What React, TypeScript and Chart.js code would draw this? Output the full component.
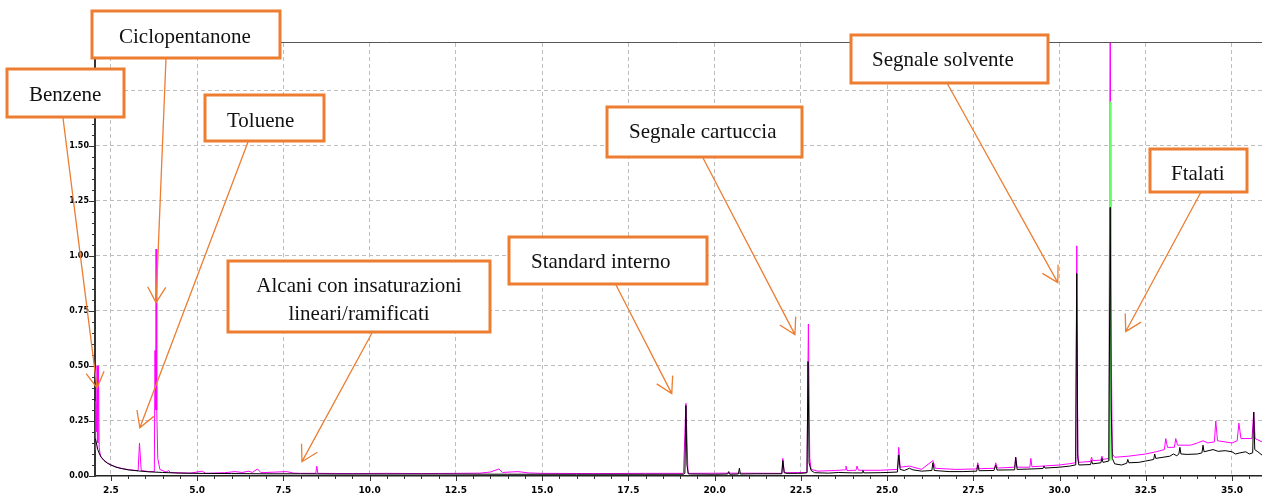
import React, { useEffect, useRef } from "react";
import { Chart, registerables } from "chart.js";

Chart.register(...registerables);

// ---- axis ranges / ticks ----
const X_MIN = 2.04;
const X_MAX = 35.87;
const Y_MIN = 0;
const Y_MAX = 1.966;
const xMajorTicks = [2.5, 5.0, 7.5, 10.0, 12.5, 15.0, 17.5, 20.0, 22.5, 25.0, 27.5, 30.0, 32.5, 35.0];
const yMajorTicks = [0.0, 0.25, 0.5, 0.75, 1.0, 1.25, 1.5, 1.75];
const xMinorStep = 0.5;
const yMinorStep = 0.05;

// ---- series (retention time [min], signal) ----
const blackTrace: [number, number][] = [
  [2.05, 0.17], [2.08, 0.15], [2.12, 0.12], [2.17, 0.1], [2.22, 0.085], [2.3, 0.07], [2.4, 0.058], [2.5, 0.05],
  [2.65, 0.04], [2.8, 0.034], [3.0, 0.028], [3.3, 0.023], [3.6, 0.019], [4.0, 0.016], [4.5, 0.013], [5.0, 0.012],
  [6.0, 0.011], [7.0, 0.01], [8.0, 0.01], [9.0, 0.009], [10.0, 0.009], [12.0, 0.009], [14.0, 0.008], [16.0, 0.008],
  [17.5, 0.008], [19.1, 0.008], [19.14, 0.012], [19.17, 0.32], [19.2, 0.05], [19.24, 0.01], [19.3, 0.009],
  [20.0, 0.008], [20.38, 0.009], [20.41, 0.02], [20.44, 0.008], [20.69, 0.009], [20.72, 0.035], [20.75, 0.009],
  [21.2, 0.01], [21.95, 0.01], [21.98, 0.07], [22.02, 0.015], [22.1, 0.012], [22.4, 0.012], [22.6, 0.013],
  [22.68, 0.015], [22.71, 0.52], [22.74, 0.06], [22.8, 0.025], [22.9, 0.015], [23.3, 0.013], [23.6, 0.016],
  [24.0, 0.014], [24.28, 0.014], [24.3, 0.025], [24.33, 0.014], [24.8, 0.015], [25.0, 0.016], [25.3, 0.018],
  [25.34, 0.095], [25.38, 0.03], [25.5, 0.025], [25.65, 0.035], [25.75, 0.028], [26.0, 0.022], [26.3, 0.025],
  [26.33, 0.06], [26.37, 0.025], [26.8, 0.02], [27.2, 0.02], [27.6, 0.022], [27.63, 0.05], [27.67, 0.024],
  [28.1, 0.025], [28.15, 0.05], [28.19, 0.027], [28.7, 0.028], [28.73, 0.085], [28.77, 0.03], [29.2, 0.032],
  [29.52, 0.034], [29.55, 0.045], [29.58, 0.036], [30.0, 0.04], [30.3, 0.045], [30.45, 0.05], [30.47, 0.09],
  [30.5, 0.92], [30.53, 0.08], [30.56, 0.05], [30.9, 0.052], [30.93, 0.07], [30.96, 0.055], [31.2, 0.06],
  [31.23, 0.08], [31.26, 0.062], [31.43, 0.068], [31.47, 1.22], [31.5, 0.3], [31.53, 0.08], [31.6, 0.055],
  [31.8, 0.05], [31.95, 0.058], [31.98, 0.075], [32.01, 0.06], [32.3, 0.062], [32.5, 0.068], [32.73, 0.075],
  [32.76, 0.1], [32.79, 0.08], [33.0, 0.085], [33.2, 0.09], [33.3, 0.1], [33.4, 0.092], [33.46, 0.1],
  [33.49, 0.13], [33.52, 0.1], [33.7, 0.098], [34.0, 0.1], [34.13, 0.105], [34.16, 0.14], [34.19, 0.11],
  [34.45, 0.12], [34.6, 0.112], [34.8, 0.115], [35.0, 0.11], [35.1, 0.1], [35.23, 0.105], [35.4, 0.11],
  [35.5, 0.1], [35.6, 0.105], [35.63, 0.29], [35.66, 0.12], [35.75, 0.11], [35.87, 0.095],
];

const magentaTrace: [number, number][] = [
  [2.05, 0.12], [2.06, 0.34], [2.08, 0.2], [2.1, 0.5], [2.12, 0.15], [2.14, 0.5], [2.16, 0.13], [2.2, 0.09],
  [2.3, 0.072], [2.4, 0.06], [2.5, 0.051], [2.65, 0.041], [2.8, 0.035], [3.0, 0.029], [3.29, 0.024], [3.33, 0.15],
  [3.38, 0.025], [3.6, 0.02], [3.76, 0.02], [3.78, 0.57], [3.8, 0.3], [3.81, 1.03], [3.83, 0.3], [3.86, 0.08],
  [3.92, 0.03], [4.1, 0.018], [4.18, 0.025], [4.22, 0.016], [4.8, 0.013], [5.15, 0.022], [5.25, 0.012],
  [5.8, 0.015], [6.1, 0.02], [6.3, 0.016], [6.5, 0.022], [6.6, 0.016], [6.75, 0.032], [6.85, 0.015], [7.3, 0.018],
  [7.6, 0.02], [7.8, 0.013], [8.0, 0.012], [8.44, 0.012], [8.47, 0.045], [8.5, 0.012], [9.5, 0.011],
  [10.5, 0.012], [11.5, 0.011], [12.5, 0.012], [13.2, 0.013], [13.5, 0.018], [13.75, 0.032], [13.85, 0.016],
  [14.3, 0.02], [14.6, 0.014], [15.0, 0.012], [16.5, 0.011], [18.0, 0.012], [19.1, 0.012], [19.17, 0.33],
  [19.23, 0.012], [20.5, 0.013], [21.95, 0.012], [21.98, 0.08], [22.02, 0.015], [22.68, 0.016], [22.72, 0.69],
  [22.76, 0.08], [22.8, 0.03], [23.0, 0.022], [23.5, 0.025], [23.79, 0.028], [23.81, 0.045], [23.84, 0.025],
  [24.1, 0.026], [24.13, 0.045], [24.17, 0.026], [24.8, 0.026], [25.3, 0.03], [25.34, 0.13], [25.38, 0.04],
  [25.65, 0.045], [26.0, 0.03], [26.33, 0.07], [26.4, 0.035], [27.0, 0.03], [27.6, 0.032], [27.63, 0.06],
  [27.67, 0.033], [28.12, 0.035], [28.15, 0.06], [28.2, 0.036], [28.7, 0.04], [28.73, 0.085], [28.77, 0.04],
  [29.14, 0.04], [29.17, 0.08], [29.2, 0.042], [29.6, 0.046], [30.0, 0.05], [30.3, 0.056], [30.45, 0.06],
  [30.47, 0.1], [30.5, 1.045], [30.53, 0.1], [30.56, 0.062], [30.9, 0.066], [30.93, 0.085], [30.96, 0.07],
  [31.2, 0.072], [31.23, 0.09], [31.26, 0.075], [31.43, 0.08], [31.47, 2.2], [31.5, 0.6], [31.53, 0.1],
  [31.6, 0.085], [32.0, 0.09], [32.5, 0.1], [32.8, 0.11], [33.04, 0.12], [33.08, 0.17], [33.13, 0.13],
  [33.33, 0.13], [33.37, 0.17], [33.42, 0.14], [33.8, 0.14], [34.0, 0.15], [34.16, 0.16], [34.3, 0.15],
  [34.49, 0.155], [34.53, 0.25], [34.58, 0.16], [35.0, 0.15], [35.15, 0.16], [35.2, 0.24], [35.26, 0.17],
  [35.58, 0.17], [35.63, 0.29], [35.67, 0.17], [35.87, 0.155],
];

const greenTrace: [number, number][] = [
  [31.44, 0.07], [31.465, 1.7], [31.49, 0.07],
];

// ---- callouts ----
const calloutLines: string[][] = [
  ["Benzene"], ["Ciclopentanone"], ["Toluene"], ["Alcani con insaturazioni", "lineari/ramificati"],
  ["Standard interno"], ["Segnale cartuccia"], ["Segnale solvente"], ["Ftalati"],
];
// arrow tips in data units (minutes, signal)
const calloutTipX = [2.1, 3.81, 3.34, 8.04, 18.76, 22.33, 29.95, 31.92];
const calloutTipY = [0.4, 0.787, 0.219, 0.065, 0.374, 0.642, 0.878, 0.656];

// layout of the callout boxes (pixels)
const calloutBoxes: [number, number, number, number][] = [
  [7, 69, 117, 48], [92, 11, 188, 47], [205, 95, 119, 46], [228, 261, 262, 71],
  [509, 237, 198, 47], [607, 107, 195, 50], [851, 35, 197, 48], [1150, 149, 97, 43],
];
const calloutTextX = [29, 119, 227, 359, 531, 629, 872, 1171];
const calloutBaselines: number[][] = [[101], [43], [127], [292, 320], [268], [138], [66], [180]];
const calloutFrom: [number, number][] = [
  [63, 118], [166, 58], [248, 142], [372, 333], [616, 285], [702, 156], [947, 83], [1201, 192],
];

const ORANGE = "#ED7D31";

const isMultiple = (v: number, step: number) => Math.abs(v / step - Math.round(v / step)) < 1e-6;

const overlayPlugin = {
  id: "overlay",
  afterDraw(chart: any) {
    const ctx: CanvasRenderingContext2D = chart.ctx;
    const { left, right, top, bottom } = chart.chartArea;
    const xs = chart.scales.x;
    const ys = chart.scales.y;
    ctx.save();
    // top frame line
    ctx.strokeStyle = "#555";
    ctx.lineWidth = 1;
    ctx.beginPath();
    ctx.moveTo(left, top - 0.5);
    ctx.lineTo(right, top - 0.5);
    ctx.stroke();
    // tick marks
    ctx.strokeStyle = "#333";
    ctx.beginPath();
    xs.ticks.forEach((t: any) => {
      const px = Math.round(xs.getPixelForValue(t.value)) + 0.5;
      const len = isMultiple(t.value, 2.5) ? 5 : 3;
      ctx.moveTo(px, bottom);
      ctx.lineTo(px, bottom + len);
    });
    ys.ticks.forEach((t: any) => {
      const py = Math.round(ys.getPixelForValue(t.value)) + 0.5;
      const len = isMultiple(t.value, 0.25) ? 6 : 3;
      ctx.moveTo(left, py);
      ctx.lineTo(left - len, py);
    });
    ctx.stroke();

    // callouts
    calloutLines.forEach((lines, i) => {
      const tx = xs.getPixelForValue(calloutTipX[i]);
      const ty = ys.getPixelForValue(calloutTipY[i]);
      const [fx, fy] = calloutFrom[i];
      ctx.strokeStyle = ORANGE;
      ctx.lineWidth = 1.3;
      ctx.beginPath();
      ctx.moveTo(fx, fy);
      ctx.lineTo(tx, ty);
      const ang = Math.atan2(fy - ty, fx - tx);
      const wing = 18;
      const spread = (30 * Math.PI) / 180;
      ctx.moveTo(tx + wing * Math.cos(ang - spread), ty + wing * Math.sin(ang - spread));
      ctx.lineTo(tx, ty);
      ctx.lineTo(tx + wing * Math.cos(ang + spread), ty + wing * Math.sin(ang + spread));
      ctx.stroke();
    });
    calloutLines.forEach((lines, i) => {
      const [bx, by, bw, bh] = calloutBoxes[i];
      ctx.fillStyle = "#ffffff";
      ctx.fillRect(bx, by, bw, bh);
      ctx.strokeStyle = ORANGE;
      ctx.lineWidth = 3;
      ctx.strokeRect(bx, by, bw, bh);
      ctx.fillStyle = "#111";
      ctx.font = '21px "Liberation Serif", "Times New Roman", serif';
      ctx.textBaseline = "alphabetic";
      ctx.textAlign = lines.length > 1 ? "center" : "left";
      lines.forEach((s, j) => ctx.fillText(s, calloutTextX[i], calloutBaselines[i][j]));
    });
    ctx.restore();
  },
};

function buildTicks(min: number, max: number, step: number) {
  const out: { value: number }[] = [];
  const start = Math.ceil(min / step - 1e-9);
  for (let k = start; k * step <= max + 1e-9; k++) out.push({ value: +(k * step).toFixed(4) });
  return out;
}

export default function App() {
  const ref = useRef<HTMLCanvasElement | null>(null);
  useEffect(() => {
    if (!ref.current) return;
    const toXY = (arr: [number, number][]) => arr.map(([x, y]) => ({ x, y }));
    const chart = new Chart(ref.current, {
      type: "line",
      data: {
        datasets: [
          { data: toXY(blackTrace), borderColor: "#000000", borderWidth: 1, pointRadius: 0, tension: 0 },
          { data: toXY(greenTrace), borderColor: "#66ff66", borderWidth: 1.5, pointRadius: 0, tension: 0 },
          { data: toXY(magentaTrace), borderColor: "#ff00ff", borderWidth: 1, pointRadius: 0, tension: 0 },
        ],
      },
      options: {
        responsive: false,
        animation: false,
        events: [],
        layout: { padding: { left: 0, top: 43, right: 0, bottom: 0 } },
        plugins: { legend: { display: false }, tooltip: { enabled: false } },
        scales: {
          x: {
            type: "linear",
            min: X_MIN,
            max: X_MAX,
            afterBuildTicks: (axis: any) => {
              axis.ticks = buildTicks(X_MIN, X_MAX, xMinorStep);
            },
            afterFit: (axis: any) => {
              axis.height = 21;
            },
            ticks: {
              autoSkip: false,
              maxRotation: 0,
              padding: 9,
              color: "#000",
              font: { family: "DejaVu Sans", size: 9, weight: "bold" },
              callback: (v: any) => (xMajorTicks.some((m) => Math.abs(m - v) < 1e-6) ? Number(v).toFixed(1) : ""),
            },
            grid: {
              drawTicks: false,
              color: (c: any) =>
                c.tick && xMajorTicks.some((m) => Math.abs(m - c.tick.value) < 1e-6) ? "#bdbdbd" : "rgba(0,0,0,0)",
              lineWidth: 1,
            },
            border: { display: true, color: "#222", width: 1.5, dash: [4, 3] },
          },
          y: {
            type: "linear",
            min: Y_MIN,
            max: Y_MAX,
            afterBuildTicks: (axis: any) => {
              axis.ticks = buildTicks(Y_MIN, Y_MAX, yMinorStep);
            },
            afterFit: (axis: any) => {
              axis.width = 95;
            },
            ticks: {
              autoSkip: false,
              padding: 6,
              color: "#000",
              font: { family: "DejaVu Sans", size: 8, weight: "bold" },
              callback: (v: any) => (yMajorTicks.some((m) => Math.abs(m - v) < 1e-6) ? Number(v).toFixed(2) : ""),
            },
            grid: {
              drawTicks: false,
              color: (c: any) =>
                c.tick && c.tick.value > 0 && yMajorTicks.some((m) => Math.abs(m - c.tick.value) < 1e-6)
                  ? "#bdbdbd"
                  : "rgba(0,0,0,0)",
              lineWidth: 1,
            },
            border: { display: true, color: "#333", width: 2, dash: [4, 3] },
          },
        },
      },
      plugins: [overlayPlugin],
    } as any);
    return () => chart.destroy();
  }, []);
  return (
    <div style={{ position: "fixed", left: 0, top: 0, width: 1262, height: 497, background: "#fff" }}>
      <canvas ref={ref} width={1262} height={497} style={{ display: "block", width: 1262, height: 497 }} />
    </div>
  );
}
